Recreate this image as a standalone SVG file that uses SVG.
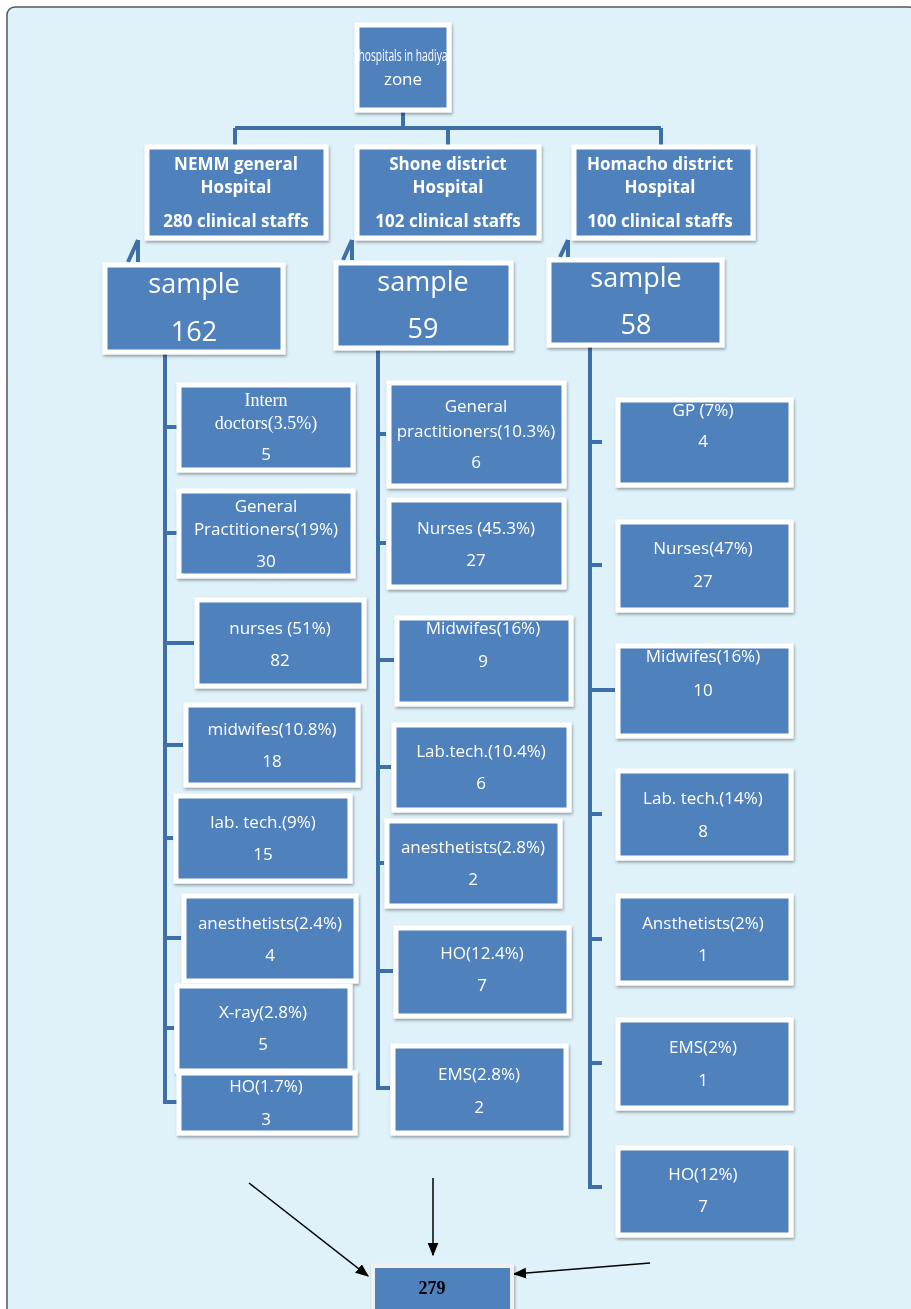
<svg xmlns="http://www.w3.org/2000/svg" width="911" height="1309" viewBox="0 0 911 1309">
<defs>
<style>
.b{fill:#4F81BD;stroke:#fff;stroke-width:5}
.t{font-family:"Open Sans","Liberation Sans",sans-serif;fill:#fff;font-size:17px;text-anchor:middle}
.h{font-family:"Open Sans","Liberation Sans",sans-serif;fill:#fff;font-size:17px;font-weight:bold;text-anchor:middle}
.s{font-family:"Open Sans","Liberation Sans",sans-serif;fill:#fff;font-size:27px;text-anchor:middle}
.c{fill:none;stroke:#3F6FA8;stroke-width:4}
.a{stroke:#000;stroke-width:1.5;fill:none;marker-end:url(#ar)}
</style>
<filter id="sh"><feDropShadow dx="1" dy="2" stdDeviation="1.5" flood-opacity="0.35"/></filter>
<marker id="ar" viewBox="0 0 10 10" refX="9" refY="5" markerWidth="9" markerHeight="9" orient="auto"><path d="M0,1L10,5L0,9z" fill="#000"/></marker>
</defs>
<rect x="7" y="7" width="910" height="1310" rx="8" fill="#DFF2FA" stroke="#555" stroke-width="1.5"/>
<g id="connectors">
<path class="c" d="M403,112V128M235,128H661M235,128V145M448,128V145M661,128V145"/>
<path class="c" d="M138,240V262M138,240L128,262M352,240V260M352,240L343,260M568,240V257M568,240L560,257"/>
<path class="c" d="M165,354V1102H178M165,427H178M165,533H178M165,643H194M165,745H183M165,838H173M165,938H181M165,1028H174"/>
<path class="c" d="M378,350V1088H390M378,434H386M378,543H386M378,660H394M378,767H391M378,863H384M378,971H393"/>
<path class="c" d="M590,347V1187H602M590,442H602M590,565H602M590,690H615M590,814H602M590,939H602M590,1063H602"/>
<path class="a" d="M249,1183L368,1276"/>
<path class="a" d="M433,1178V1255"/>
<path class="a" d="M650,1263L514,1274"/>
</g>
<g filter="url(#sh)">
<g id="root"><rect class="b" x="357" y="25" width="92" height="85"/><text class="t" x="403" y="61" font-size="17" textLength="89" lengthAdjust="spacingAndGlyphs">hospitals in hadiya</text><text class="t" x="403" y="85" font-size="17">zone</text></g>
<g id="nemm"><rect class="b" x="147" y="147" width="179" height="91"/><text class="h" x="236" y="170">NEMM general</text><text class="h" x="236" y="193">Hospital</text><text class="h" x="236" y="227">280 clinical staffs</text></g>
<g id="shone"><rect class="b" x="357" y="147" width="182" height="91"/><text class="h" x="448" y="170">Shone district</text><text class="h" x="448" y="193">Hospital</text><text class="h" x="448" y="227">102 clinical staffs</text></g>
<g id="homacho"><rect class="b" x="574" y="147" width="179" height="91"/><text class="h" x="660" y="170">Homacho district</text><text class="h" x="660" y="193">Hospital</text><text class="h" x="660" y="227">100 clinical staffs</text></g>
<g id="s1"><rect class="b" x="105" y="265" width="178" height="87"/><text class="s" x="194" y="293">sample</text><text class="s" x="194" y="341">162</text></g>
<g id="s2"><rect class="b" x="336" y="263" width="175" height="85"/><text class="s" x="423" y="291">sample</text><text class="s" x="423" y="338">59</text></g>
<g id="s3"><rect class="b" x="549" y="260" width="173" height="85"/><text class="s" x="636" y="287">sample</text><text class="s" x="636" y="334">58</text></g>

<g id="l1"><rect class="b" x="179" y="385" width="174" height="85"/><text x="266" y="406" text-anchor="middle" font-family="Liberation Serif,serif" font-size="18" fill="#fff">Intern</text><text x="266" y="429" text-anchor="middle" font-family="Liberation Serif,serif" font-size="18" fill="#fff">doctors(3.5%)</text><text class="t" x="266" y="460">5</text></g>
<g id="l2"><rect class="b" x="179" y="491" width="174" height="85"/><text class="t" x="266" y="512">General</text><text class="t" x="266" y="535">Practitioners(19%)</text><text class="t" x="266" y="567">30</text></g>
<g id="l3"><rect class="b" x="197" y="600" width="167" height="86"/><text class="t" x="280" y="634">nurses (51%)</text><text class="t" x="280" y="666">82</text></g>
<g id="l4"><rect class="b" x="186" y="705" width="172" height="80"/><text class="t" x="272" y="735">midwifes(10.8%)</text><text class="t" x="272" y="767">18</text></g>
<g id="l5"><rect class="b" x="176" y="796" width="174" height="85"/><text class="t" x="263" y="828">lab. tech.(9%)</text><text class="t" x="263" y="860">15</text></g>
<g id="l6"><rect class="b" x="184" y="896" width="172" height="85"/><text class="t" x="270" y="929">anesthetists(2.4%)</text><text class="t" x="270" y="961">4</text></g>
<g id="l7"><rect class="b" x="177" y="986" width="173" height="85"/><text class="t" x="263" y="1018">X-ray(2.8%)</text><text class="t" x="263" y="1050">5</text></g>
<g id="l8"><rect class="b" x="179" y="1073" width="176" height="60"/><text class="t" x="266" y="1092">HO(1.7%)</text><text class="t" x="266" y="1125">3</text></g>

<g id="m1"><rect class="b" x="389" y="383" width="175" height="103"/><text class="t" x="476" y="412" font-size="16">General</text><text class="t" x="476" y="437" font-size="16">practitioners(10.3%)</text><text class="t" x="476" y="468">6</text></g>
<g id="m2"><rect class="b" x="389" y="500" width="175" height="87"/><text class="t" x="476" y="534">Nurses (45.3%)</text><text class="t" x="476" y="566">27</text></g>
<g id="m3"><rect class="b" x="397" y="618" width="174" height="86"/><text class="t" x="483" y="634">Midwifes(16%)</text><text class="t" x="483" y="667">9</text></g>
<g id="m4"><rect class="b" x="394" y="725" width="175" height="85"/><text class="t" x="481" y="757">Lab.tech.(10.4%)</text><text class="t" x="481" y="789">6</text></g>
<g id="m5"><rect class="b" x="387" y="821" width="173" height="85"/><text class="t" x="473" y="853">anesthetists(2.8%)</text><text class="t" x="473" y="885">2</text></g>
<g id="m6"><rect class="b" x="396" y="928" width="173" height="88"/><text class="t" x="482" y="959">HO(12.4%)</text><text class="t" x="482" y="991">7</text></g>
<g id="m7"><rect class="b" x="393" y="1046" width="173" height="87"/><text class="t" x="479" y="1080">EMS(2.8%)</text><text class="t" x="479" y="1113">2</text></g>

<g id="r1"><rect class="b" x="618" y="400" width="173" height="85"/><text class="t" x="703" y="416" font-size="16">GP (7%)</text><text class="t" x="703" y="447" font-size="16">4</text></g>
<g id="r2"><rect class="b" x="618" y="522" width="173" height="88"/><text class="t" x="703" y="554">Nurses(47%)</text><text class="t" x="703" y="587">27</text></g>
<g id="r3"><rect class="b" x="618" y="646" width="173" height="90"/><text class="t" x="703" y="662">Midwifes(16%)</text><text class="t" x="703" y="696">10</text></g>
<g id="r4"><rect class="b" x="618" y="771" width="173" height="87"/><text class="t" x="703" y="804">Lab. tech.(14%)</text><text class="t" x="703" y="837">8</text></g>
<g id="r5"><rect class="b" x="618" y="896" width="173" height="87"/><text class="t" x="703" y="929">Ansthetists(2%)</text><text class="t" x="703" y="961">1</text></g>
<g id="r6"><rect class="b" x="618" y="1020" width="173" height="88"/><text class="t" x="703" y="1053">EMS(2%)</text><text class="t" x="703" y="1086">1</text></g>
<g id="r7"><rect class="b" x="618" y="1148" width="173" height="87"/><text class="t" x="703" y="1180">HO(12%)</text><text class="t" x="703" y="1212">7</text></g>

<g id="total"><rect x="373" y="1266" width="139" height="50" fill="#4F81BD" stroke="#f0f0f0" stroke-width="4"/><text x="432" y="1294" text-anchor="middle" font-family="Liberation Serif,serif" font-weight="bold" font-size="18" fill="#000">279</text></g>
</g>
</svg>
